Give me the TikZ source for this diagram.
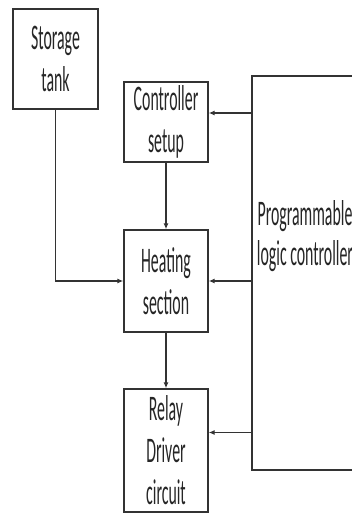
\documentclass[tikz,border=0pt]{standalone}
\usepackage{fontspec}
\setmainfont{Carlito}[FakeStretch=0.44]
\usetikzlibrary{arrows.meta}
\tikzset{
	blk/.style={draw=black!80, line width=1.3pt, fill=white, align=center, inner sep=0pt, font=\fontsize{36}{42}\selectfont, text=black!85},
	arr/.style={draw=black!80, line width=1.2pt, -{Latex[length=6pt,width=5pt]}},
}
\begin{document}
\begin{tikzpicture}[x=1pt, y=-1pt]
			\useasboundingbox (0,0) rectangle (352,514);
			\clip (0,0) rectangle (352,514);
			\node[blk, minimum width=85, minimum height=100] (tank) at (55.5,59) {Storage\\tank};
			\node[blk, minimum width=84, minimum height=80] (ctrl) at (166,122) {Controller\\setup};
			\node[blk, minimum width=84, minimum height=102] (heat) at (166,281) {Heating\\section};
			\node[blk, minimum width=84, minimum height=123] (relay) at (166,450.5) {Relay\\Driver\\circuit};
			\node[blk, minimum width=120, minimum height=394] (plc) at (312,273) {};
			\node[align=center, inner sep=0pt, font=\fontsize{36}{40}\selectfont, text=black!85] (plclabel) at (305,236) {Programmable\\logic controller};
			\draw[arr] (tank.south) |- (heat.west);
			\draw[arr] (ctrl.south) -- (heat.north);
			\draw[arr] (heat.south) -- (relay.north);
			\draw[arr] ([yshift=9]ctrl.east -| plc.west) -- ([yshift=9]ctrl.east);
			\draw[arr] (heat.east -| plc.west) -- (heat.east);
			\draw[arr] ([yshift=18]relay.east -| plc.west) -- ([yshift=18]relay.east);
		\end{tikzpicture}
\end{document}
